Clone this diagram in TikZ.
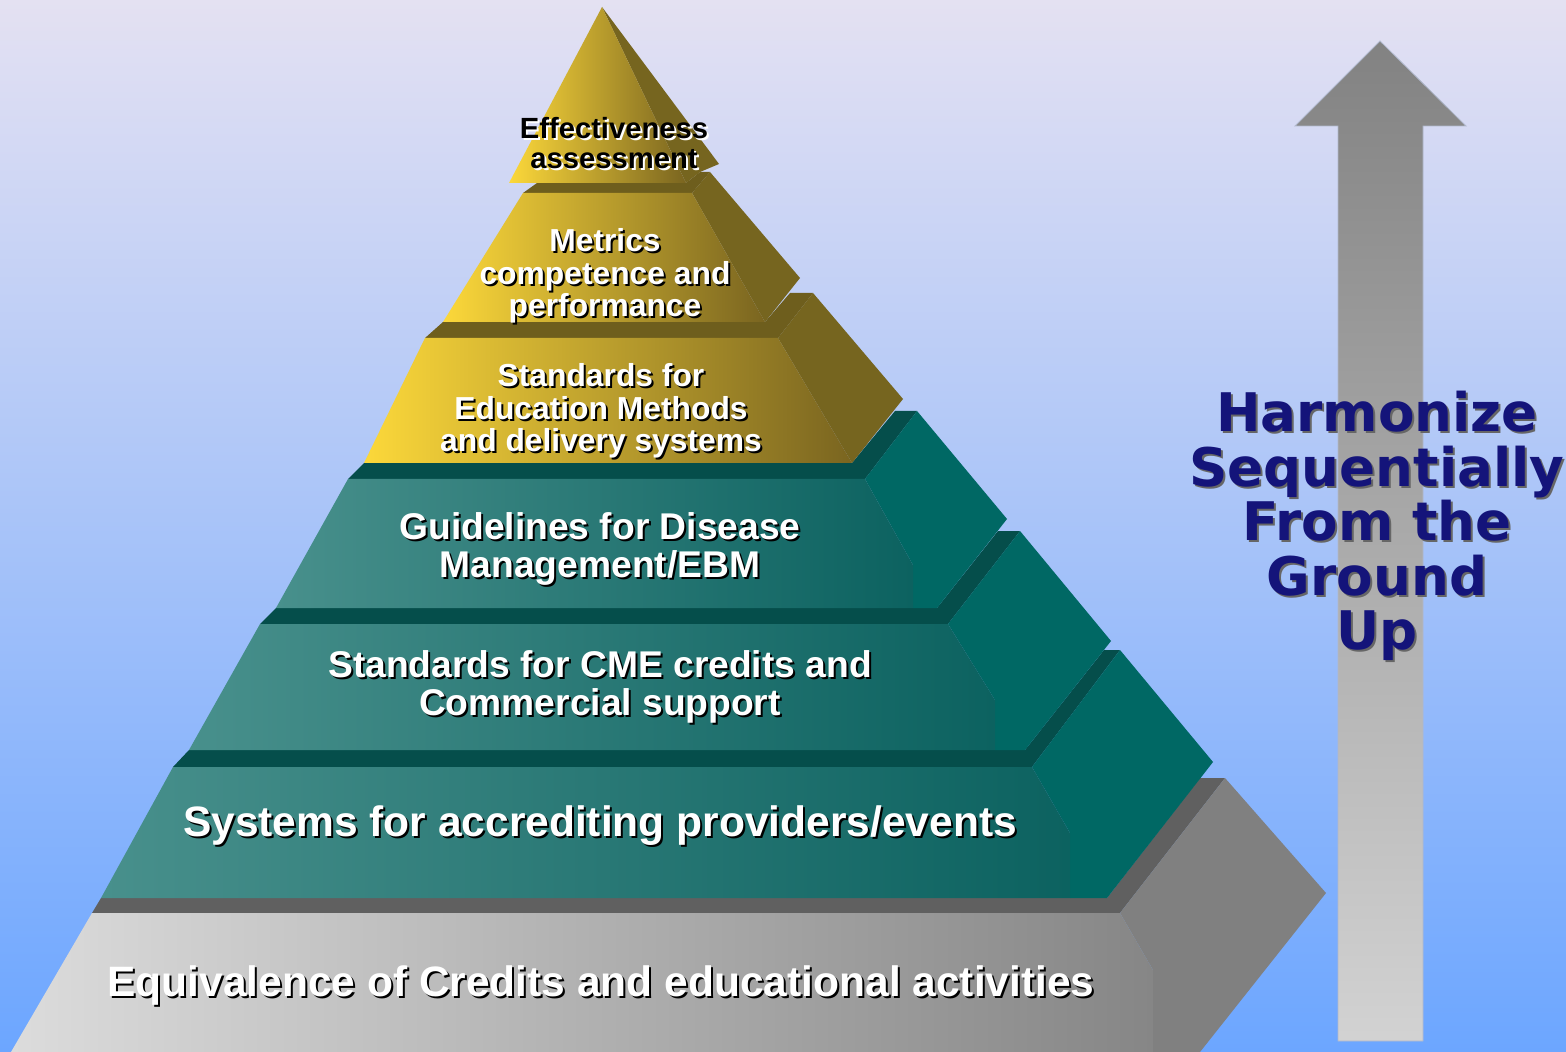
\documentclass[tikz,border=0pt]{standalone}
\usepackage{fontspec}
\setmainfont{Liberation Sans}
\newfontfamily\harmfont{DejaVu Sans}

\definecolor{bgtop}{RGB}{228,225,242}
\definecolor{bgmid}{RGB}{165,200,245}
\definecolor{bgbot}{RGB}{108,166,255}
\definecolor{goldL}{RGB}{252,216,58}
\definecolor{goldR}{RGB}{122,101,32}
\definecolor{goldS}{RGB}{118,101,31}
\definecolor{goldT}{RGB}{110,94,29}
\definecolor{tealL}{RGB}{72,144,140}
\definecolor{tealR}{RGB}{12,98,96}
\definecolor{tealS}{RGB}{0,104,100}
\definecolor{tealT}{RGB}{5,78,75}
\definecolor{greyL}{RGB}{220,220,220}
\definecolor{greyR}{RGB}{134,134,134}
\definecolor{greyS}{RGB}{128,128,128}
\definecolor{greyT}{RGB}{96,96,96}
\definecolor{harmblue}{RGB}{20,20,122}

\tikzset{
  goldfront/.style={left color=goldL, right color=goldR},
  tealfront/.style={left color=tealL, right color=tealR},
  greyfront/.style={left color=greyL, right color=greyR},
  lbl/.style={align=center, inner sep=0pt},
  bigtext/.style={font=\fontsize{21.25}{24}\selectfont\bfseries},
  midtext/.style={font=\fontsize{18.6}{19}\selectfont\bfseries},
  smalltext/.style={font=\fontsize{15.9}{16.25}\selectfont\bfseries},
  toptext/.style={font=\fontsize{14.6}{15}\selectfont\bfseries},
  harm/.style={lbl, font=\harmfont\fontsize{26.6}{27.2}\selectfont\bfseries}
}

% label with a drop shadow: name, position, size style, colour, shadow colour, text
\newcommand\shadowlabel[6]{%
  \node[lbl,#3,text=#5,xshift=1pt,yshift=-1pt] at (#2) {#6};
  \node[lbl,#3,text=#4] (#1) at (#2) {#6};}

\begin{document}
\begin{tikzpicture}[x=0.5pt,y=-0.5pt]
\clip (0,0) rectangle (1566,1052);
\shade[top color=bgtop, middle color=bgmid, bottom color=bgbot] (0,0) rectangle (1566,1052);

% arrow
\shade[top color=gray!98, bottom color=gray!35, draw={rgb,255:red,176;green,184;blue,204}, line width=0.4pt]
  (1380,41) -- (1466,126) -- (1423,126) -- (1423,1041) -- (1338,1041) -- (1338,126) -- (1295,126) -- cycle;

% layer 1
\fill[greyT] (92,913) -- (1120,913) -- (1225,778) -- (1200,778) -- (1107,898) -- (101,898) -- cycle;
\fill[greyS] (1120,913) -- (1225,778) -- (1326,893) -- (1200,1052) -- (1153,1052) -- (1153,970) -- cycle;
\shade[greyfront] (11,1052) -- (92,913) -- (1120,913) -- (1153,970) -- (1153,1052) -- cycle;

% layer 2
\fill[tealT] (173,767) -- (1032,767) -- (1120,650) -- (1104,650) -- (1025,750) -- (189,750) -- cycle;
\fill[tealS] (1032,767) -- (1120,650) -- (1213,762) -- (1107,898) -- (1070,898) -- (1070,833) -- cycle;
\shade[tealfront] (101,898) -- (173,767) -- (1032,767) -- (1070,833) -- (1070,898) -- cycle;

% layer 3
\fill[tealT] (260,624) -- (948,624) -- (1020,531) -- (998,531) -- (937,608) -- (276,608) -- cycle;
\fill[tealS] (948,624) -- (1020,531) -- (1111,641) -- (1025,750) -- (995,750) -- (995,700) -- cycle;
\shade[tealfront] (189,750) -- (260,624) -- (948,624) -- (995,700) -- (995,750) -- cycle;

% layer 4
\fill[tealT] (348,479) -- (865,479) -- (917,411) -- (895,411) -- (852,463) -- (364,463) -- cycle;
\fill[tealS] (865,479) -- (917,411) -- (1007,519) -- (937,608) -- (913,608) -- (913,565) -- cycle;
\shade[tealfront] (276,608) -- (348,479) -- (865,479) -- (913,565) -- (913,608) -- cycle;

% layer 5
\fill[goldT] (425,338) -- (778,338) -- (813,293) -- (790,293) -- (765,322) -- (443,322) -- cycle;
\fill[goldS] (778,338) -- (813,293) -- (903,399) -- (852,463) -- cycle;
\shade[goldfront] (364,463) -- (425,338) -- (778,338) -- (852,463) -- cycle;

% layer 6
\fill[goldT] (523,193) -- (692,193) -- (710,172) -- (700,172) -- (686,183) -- (537,183) -- cycle;
\fill[goldS] (692,193) -- (710,172) -- (800,278) -- (765,322) -- cycle;
\shade[goldfront] (443,322) -- (523,193) -- (692,193) -- (765,322) -- cycle;

% top
\fill[goldS] (602,7) -- (719,164) -- (700,172) -- (686,183) -- cycle;
\shade[goldfront] (602,7) -- (509,183) -- (686,183) -- cycle;

% labels
\shadowlabel{equiv}{601,986}{bigtext}{white}{black}{Equivalence of Credits and educational activities}
\shadowlabel{systems}{600,826}{bigtext}{white}{black}{Systems for accrediting providers/events}
\shadowlabel{cme}{600,687}{midtext}{white}{black}{Standards for CME credits and\\Commercial support}
\shadowlabel{guide}{600,549}{midtext}{white}{black}{Guidelines for Disease\\Management/EBM}
\shadowlabel{methods}{601,411}{smalltext}{white}{black}{Standards for\\Education Methods\\and delivery systems}
\shadowlabel{metrics}{605,276}{smalltext}{white}{black}{Metrics\\competence and\\performance}
\shadowlabel{effect}{614,143}{toptext}{black}{white}{Effectiveness\\assessment}

\node[harm, text=black!60, xshift=1pt, yshift=-1pt] at (1377,526) {Harmonize\\Sequentially\\From the\\Ground\\Up};
\node[harm, text=harmblue] (harmonize) at (1377,526) {Harmonize\\Sequentially\\From the\\Ground\\Up};
\end{tikzpicture}
\end{document}
